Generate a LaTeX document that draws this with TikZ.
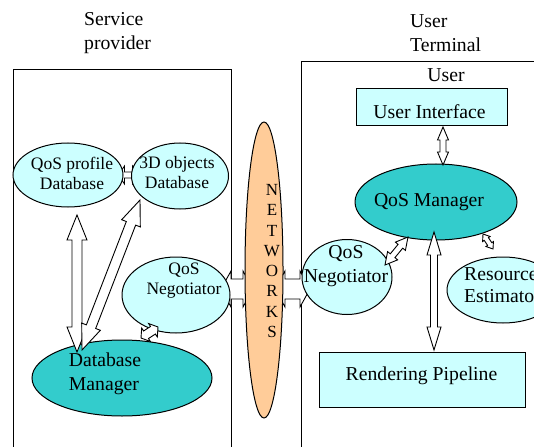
\documentclass[tikz,border=0pt]{standalone}
\usepackage{fontspec}
\setmainfont{Liberation Serif}
\usetikzlibrary{shapes.geometric,calc}
\pgfdeclarelayer{frames}
\pgfdeclarelayer{links}
\pgfsetlayers{frames,links,main}
\definecolor{paleCyan}{HTML}{CCFFFF}
\definecolor{tealFill}{HTML}{33CCCC}
\definecolor{peach}{HTML}{FFCC99}
\tikzset{
  big/.style={font=\fontsize{19.7}{24}\selectfont, inner sep=0pt, align=center},
  small/.style={font=\fontsize{17.5}{20}\selectfont, inner sep=0pt, align=center},
  blob/.style={ellipse, draw=black, line width=1pt, inner sep=0pt, fill=paleCyan},
  hub/.style={blob, fill=tealFill},
  panel/.style={rectangle, draw=black, line width=1pt, fill=paleCyan, inner sep=0pt},
  frame/.style={draw=black, line width=1pt},
  % hollow block arrow with a head at both ends:
  % #1 head length, #2 head half-width, #3 shaft half-width (all in pt)
  dblarrow/.style n args={3}{draw=black, fill=white, line width=0.9pt,
    to path={let \p1=(\tikztostart), \p2=(\tikztotarget),
      \n1={atan2(\y2-\y1,\x2-\x1)} in
      (\p1) -- ($(\p1)+(\n1:#1pt)+({\n1+90}:#2pt)$)
      -- ($(\p1)+(\n1:#1pt)+({\n1+90}:#3pt)$)
      -- ($(\p2)+({\n1+180}:#1pt)+({\n1+90}:#3pt)$)
      -- ($(\p2)+({\n1+180}:#1pt)+({\n1+90}:#2pt)$)
      -- (\p2)
      -- ($(\p2)+({\n1+180}:#1pt)+({\n1-90}:#2pt)$)
      -- ($(\p2)+({\n1+180}:#1pt)+({\n1-90}:#3pt)$)
      -- ($(\p1)+(\n1:#1pt)+({\n1-90}:#3pt)$)
      -- ($(\p1)+(\n1:#1pt)+({\n1-90}:#2pt)$) -- cycle}}
}
\begin{document}
\begin{tikzpicture}[x=1pt,y=-1pt]
\useasboundingbox (0,0) rectangle (534,446);
\clip (0,0) rectangle (534,446);

% headings
\node[big, align=left, anchor=west] (spHead) at (84,33) {Service\\provider};
\node[big, align=left, anchor=west] (utHead) at (410,33) {User\\Terminal};

% service provider side
\node[blob, minimum width=110pt, minimum height=64pt] (qpdb) at (68,175) {};
\node[small] (qpdbT) at (72,173) {QoS profile\\Database};
\node[blob, minimum width=97pt, minimum height=66pt] (odb) at (180,176) {};
\node[small] (odbT) at (177,173) {3D objects\\Database};
\node[blob, minimum width=108pt, minimum height=76pt] (negL) at (176,295) {};
\node[small] (negLT) at (184,281) {QoS\\Negotiator};
\node[hub, minimum width=180pt, minimum height=76pt] (dbm) at (122,378) {};
\node[big, align=left] (dbmT) at (105,374) {Database\\Manager};

% network
\node[blob, fill=peach, minimum width=38pt, minimum height=296pt] (net) at (264,270) {};
\node[font=\fontsize{17}{20.3}\selectfont, inner sep=0pt, align=center] (netT) at (272,261)
  {N\\E\\T\\W\\O\\R\\K\\S};

% user terminal side
\node[big, anchor=base] (userT) at (446,82) {User};
\node[panel, minimum width=151pt, minimum height=37pt] (ui) at (431.5,107) {};
\node[big, anchor=base] (uiT) at (429.5,119) {User Interface};
\node[hub, minimum width=162pt, minimum height=76pt] (qm) at (436,202) {};
\node[big, anchor=base] (qmT) at (429,206) {QoS Manager};
\node[blob, minimum width=90pt, minimum height=75pt] (negR) at (347,277) {};
\node[big] (negRT) at (346,266) {QoS\\Negotiator};
\node[blob, minimum width=112pt, minimum height=66pt] (res) at (503,290) {};
\node[big, align=left, anchor=west, font=\fontsize{19.7}{22}\selectfont] (resT) at (464,285) {Resource\\Estimator};
\node[panel, minimum width=206pt, minimum height=55pt] (rp) at (422,379.5) {};
\node[big, anchor=base] (rpT) at (421.5,380) {Rendering Pipeline};

% outer frames
\begin{pgfonlayer}{frames}
  \draw[frame] (13,470) -- (13,70) -- (231,70) -- (231,470);
  \draw[frame] (301,470) -- (301,62) -- (560,62);
\end{pgfonlayer}

% links whose ends tuck under the shapes
\begin{pgfonlayer}{links}
  \draw[dblarrow={6}{9}{3}] ($(qpdb)+(50.5,0)$) to ($(odb)+(-41.5,-1)$);
  \draw[dblarrow={10}{18}{10}] ($(negL)+(45,-6)$) to ($(net)+(-11,19)$);
  \draw[dblarrow={10}{18}{10}] ($(net)+(11,19)$) to ($(negR)+(-37,12)$);
\end{pgfonlayer}

% links drawn over the shapes
\draw[dblarrow={25}{10}{5}] ($(qpdb)+(9,40)$) to ($(dbm)+(-45,-26)$);
\draw[dblarrow={25}{10}{5}] ($(odb)+(-40,24)$) to ($(dbm)+(-40,-28)$);
\draw[dblarrow={6}{8}{4.5}] ($(dbm)+(19,-40)$) to ($(negL)+(-18,32)$);
\draw[dblarrow={13}{5.5}{3}] ($(ui)+(11.5,20)$) to ($(qm)+(7,-37)$);
\draw[dblarrow={23}{7}{3.5}] ($(qm)+(-2,30)$) to ($(rp)+(12,-29.5)$);
\draw[dblarrow={12}{6.5}{3}] ($(qm)+(-28,35)$) to ($(negR)+(38,-12)$);
\draw[dblarrow={6}{4.5}{2.5}] ($(qm)+(47,32)$) to ($(res)+(-10,-41)$);
\end{tikzpicture}
\end{document}
